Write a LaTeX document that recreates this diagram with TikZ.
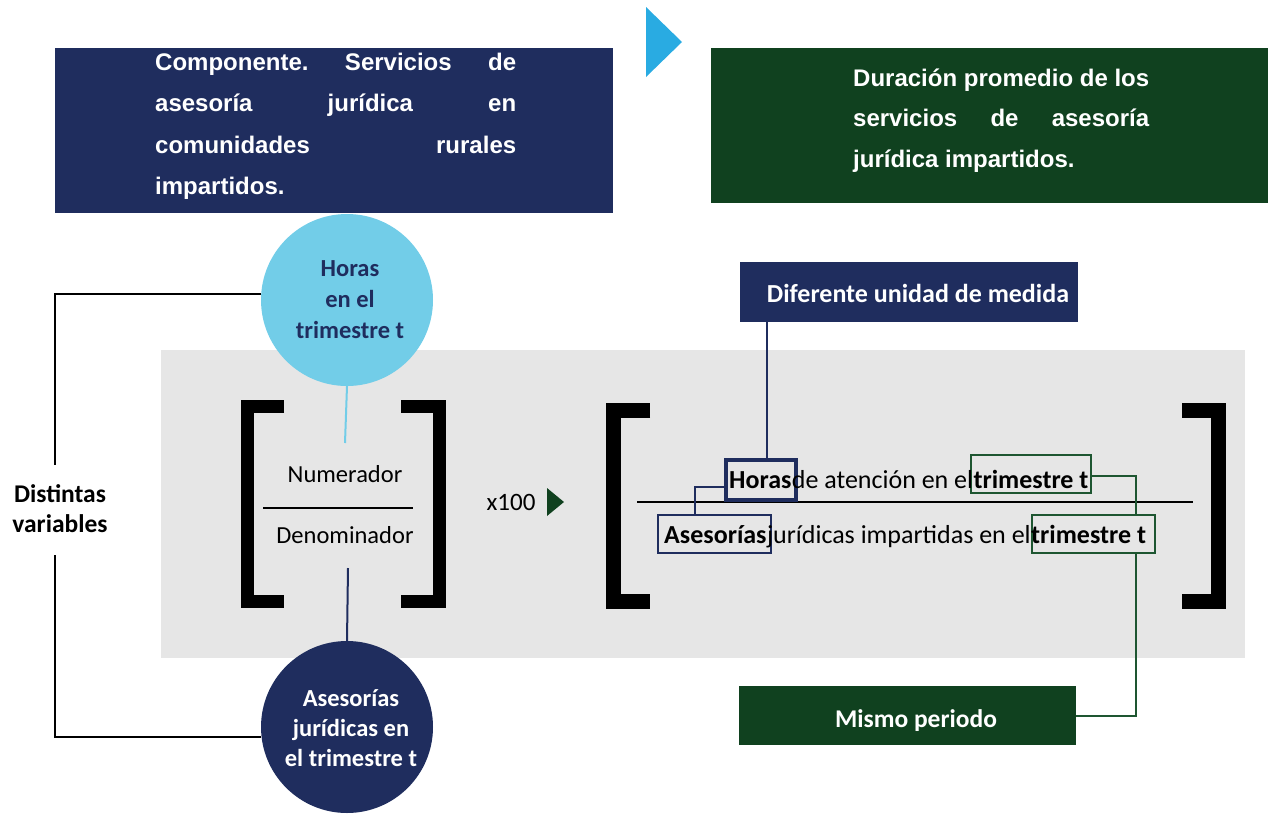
\documentclass[tikz,border=0pt]{standalone}
\usepackage{fontspec}
\setmainfont{Carlito}
\newfontfamily\arialf{Liberation Sans}
\usetikzlibrary{calc}
\definecolor{navy}{HTML}{1F2D5E}
\definecolor{dgreen}{HTML}{10411F}
\definecolor{lcyan}{HTML}{72CDE8}
\definecolor{bcyan}{HTML}{29ABE2}
\definecolor{lgray}{HTML}{E6E6E6}
\definecolor{lgreen}{HTML}{1E5631}
\tikzset{
  box/.style={rectangle, inner sep=0pt, draw=none},
  txt/.style={inner sep=0pt, anchor=base},
  txtl/.style={inner sep=0pt, anchor=base west},
  arialtxt/.style={txtl, text=white, font=\arialf\bfseries\fontsize{24}{28}\selectfont},
  circtxt/.style={txt, font=\bfseries\fontsize{24.5}{28}\selectfont},
  fractxt/.style={txt, font=\fontsize{24.5}{28}\selectfont},
  eqtxt/.style={txtl, font=\fontsize{26}{28}\selectfont},
  eqbold/.style={txtl, font=\bfseries\fontsize{26}{28}\selectfont},
  brk/.style={line width=13pt, line join=miter, line cap=butt},
  bigbrk/.style={line width=15pt, line join=miter, line cap=butt},
}
\begin{document}
\begin{tikzpicture}[x=1pt,y=-1pt]
\useasboundingbox (0,0) rectangle (1272,814);

% top boxes
\node[box, fill=navy, minimum width=558pt, minimum height=165pt] (comp) at (334,130.5) {};
\node[arialtxt] (c1) at (155,70.5) {\hbox to 361pt{Componente.\hfill Servicios\hfill de}};
\node[arialtxt] (c2) at (155,111.5) {\hbox to 361pt{asesoría\hfill jurídica\hfill en}};
\node[arialtxt] (c3) at (155,153) {\hbox to 361pt{comunidades\hfill rurales}};
\node[arialtxt] (c4) at (155,194) {impartidos.};

\fill[bcyan] (646,7) -- (682,42) -- (646,77) -- cycle;

\node[box, fill=dgreen, minimum width=557pt, minimum height=155pt] (dur) at (989.5,125.5) {};
\node[arialtxt] (d1) at (853,86) {\hbox to 296pt{Duración\hfill promedio\hfill de\hfill los}};
\node[arialtxt] (d2) at (853,126.5) {\hbox to 296pt{servicios\hfill de\hfill asesoría}};
\node[arialtxt] (d3) at (853,167) {jurídica impartidos.};

% gray panel
\node[box, fill=lgray, minimum width=1084pt, minimum height=308pt] (panel) at (703,504) {};

% circles
\node[circle, fill=lcyan, minimum size=172pt, inner sep=0pt] (hc) at (347,300) {};
\node[circtxt, text=navy] at (350,276) {Horas};
\node[circtxt, text=navy] at (350,307) {en el};
\node[circtxt, text=navy] at (350,338) {trimestre t};

\node[circle, fill=navy, minimum size=172pt, inner sep=0pt] (ac) at (347,727) {};
\node[circtxt, text=white] at (351,706) {Asesorías};
\node[circtxt, text=white] at (351,736) {jurídicas en};
\node[circtxt, text=white] at (351,766) {el trimestre t};

% small fraction
\draw[brk] (284,406.5) -- (247.5,406.5) -- (247.5,601.5) -- (284,601.5);
\draw[brk] (401,406.5) -- (439.5,406.5) -- (439.5,601.5) -- (401,601.5);
\node[fractxt] (num) at (345,482) {Numerador};
\node[fractxt] (den) at (345,543) {Denominador};
\draw[line width=2pt] (263,508) -- (413,508);
\coordinate (numtop) at (345,443);
\coordinate (denbot) at (348,568);
\draw[lcyan, line width=2pt] (hc.south) -- (numtop);
\draw[navy, line width=2pt] (denbot) -- (ac.north);

% distintas variables
\node[txt, font=\bfseries\fontsize{25.5}{28}\selectfont] (dv1) at (60,502) {Distintas};
\node[txt, font=\bfseries\fontsize{25.5}{28}\selectfont] (dv2) at (60,532) {variables};
\coordinate (dvt) at (55,465);
\coordinate (dvb) at (55,555);
\draw[line width=1.8pt] (hc.west |- 0,294) -| (dvt);
\draw[line width=1.8pt] (ac.west |- 0,737) -| (dvb);

% x100
\node[txt, font=\fontsize{25}{28}\selectfont] (x100) at (511,510) {x100};
\fill[dgreen] (547,488) -- (564,502) -- (547,516) -- cycle;

% big fraction
\draw[bigbrk] (650,410.5) -- (613.5,410.5) -- (613.5,601.5) -- (650,601.5);
\draw[bigbrk] (1182,410.5) -- (1218.5,410.5) -- (1218.5,601.5) -- (1182,601.5);
\draw[line width=2pt] (637,502) -- (1193,502);

\node[box, draw=navy, line width=4pt, minimum width=70pt, minimum height=40pt] (hh) at (761,480) {};
\node[box, draw=lgreen, line width=2pt, minimum width=120pt, minimum height=38pt] (t1) at (1031,474) {};
\node[box, draw=navy, line width=2pt, minimum width=113pt, minimum height=38pt] (as) at (714,534) {};
\node[box, draw=lgreen, line width=2pt, minimum width=123pt, minimum height=38pt] (t2) at (1093,534) {};

\node[eqbold] (w1) at (729,488) {Horas};
\node[eqtxt] (w2) at (w1.base east) {de atención en el};
\node[eqbold] (w3) at (w2.base east) {trimestre t};
\node[eqbold] (w4) at (664,543) {Asesorías};
\node[eqtxt] (w5) at (w4.base east) {jurídicas impartidas en el};
\node[eqbold] (w6) at (w5.base east) {trimestre t};

% labels
\node[box, fill=navy, minimum width=338pt, minimum height=60pt] (dif) at (909,292) {};
\node[txt, text=white, font=\bfseries\fontsize{26}{28}\selectfont] at (918,302) {Diferente unidad de medida};
\node[box, fill=dgreen, minimum width=337pt, minimum height=59pt] (mp) at (907.5,715.5) {};
\node[txt, text=white, font=\bfseries\fontsize{25.5}{28}\selectfont] at (916,727) {Mismo periodo};

% connectors
\draw[navy, line width=2pt] ([xshift=6pt]hh.north) -- ([xshift=6pt]hh.north |- dif.south);
\draw[navy, line width=2pt] ([yshift=-6.5pt]hh.west) -| ([xshift=-19pt]as.north);
\draw[lgreen, line width=2pt] ([yshift=-2pt]t1.east) -| ([xshift=43pt]t2.north);
\draw[lgreen, line width=2pt] ([xshift=43pt]t2.south) |- (mp.east);
\end{tikzpicture}
\end{document}
